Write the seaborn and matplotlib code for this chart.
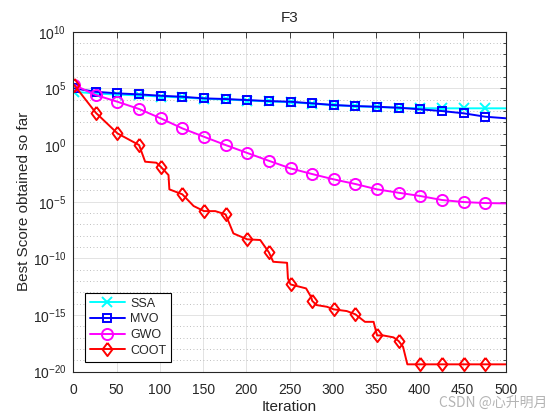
import numpy as np
import matplotlib
matplotlib.use('Agg')
import matplotlib.pyplot as plt
import seaborn as sns
from matplotlib.ticker import FixedLocator, NullFormatter

sns.set_style('white')
plt.rcParams['font.family'] = ['Liberation Sans', 'DejaVu Sans']
plt.rcParams['mathtext.fontset'] = 'custom'
plt.rcParams['mathtext.rm'] = 'Liberation Sans'
plt.rcParams['mathtext.it'] = 'Liberation Sans:italic'


# data (log10 of best score)
marker_iters = [1, 26, 51, 76, 101, 126, 151, 176, 201, 226, 251, 276, 301,
                326, 351, 376, 401, 426, 451, 476]
curve_iters = marker_iters + [500]

ssa_log = [4.7, 4.55, 4.45, 4.38, 4.28, 4.2, 4.08, 4.02, 3.93, 3.85, 3.78,
           3.65, 3.52, 3.42, 3.35, 3.28, 3.25, 3.24, 3.24, 3.24, 3.24]
mvo_log = [5.0, 4.7, 4.56, 4.47, 4.35, 4.26, 4.12, 4.06, 3.97, 3.88, 3.82,
           3.68, 3.53, 3.44, 3.38, 3.29, 3.15, 3.0, 2.8, 2.5, 2.36]
gwo_log = [5.3, 4.41, 3.82, 3.18, 2.36, 1.47, 0.73, 0.0, -0.7, -1.39, -2.06,
           -2.56, -3.03, -3.44, -3.91, -4.21, -4.5, -4.85, -5.03, -5.12, -5.15]

coot_iters = [1, 26, 51, 76, 83, 96, 101, 110, 111, 126,
              139, 151, 164, 176, 185, 201, 216, 226, 231, 247,
              248, 251, 269, 275, 276, 281, 293, 301, 316, 326,
              337, 347, 351, 358, 370, 376, 381, 386, 401, 426,
              451, 476, 500]
coot_log = [5.3, 2.85, 1.03, 0.0, -1.47, -1.56, -1.91, -2.65, -3.91, -4.35,
            -5.38, -5.83, -5.83, -6.12, -7.8, -8.32, -8.38, -9.47, -10.3, -10.39,
            -11.77, -12.3, -12.65, -13.44, -13.74, -14.12, -14.27, -14.5, -14.65, -14.94,
            -15.6, -15.6, -16.8, -16.8, -16.97, -17.3, -17.8, -19.35, -19.35, -19.35,
            -19.35, -19.35, -19.35]

x_ticks = [0, 50, 100, 150, 200, 250, 300, 350, 400, 450, 500]
y_major = [1e-20, 1e-15, 1e-10, 1e-5, 1e0, 1e5, 1e10]

diamond = [(0, 1), (0.75, 0), (0, -1), (-0.75, 0), (0, 1)]

series = [
    ('SSA', curve_iters, ssa_log, '#00FFFF', 'x', 6.5),
    ('MVO', curve_iters, mvo_log, '#0000FF', 's', 6),
    ('GWO', curve_iters, gwo_log, '#FF00FF', 'o', 8),
    ('COOT', coot_iters, coot_log, '#FF0000', diamond, 9.5),
]

fig = plt.figure(figsize=(5.6, 4.2), dpi=100)
ax = fig.add_axes([0.1309, 0.115, 0.7727, 0.8095])

for name, it, lg, col, mk, ms in series:
    idx = [i for i, v in enumerate(it) if v in marker_iters]
    sns.lineplot(x=it, y=10 ** np.array(lg), ax=ax, color=col, linewidth=1.4,
                 marker=mk, markersize=ms, markevery=idx,
                 markerfacecolor='none', markeredgecolor=col,
                 markeredgewidth=1.4, label=name)

ax.set_yscale('log')
ax.set_xlim(0, 500)
ax.set_ylim(1e-20, 1e10)
ax.set_xticks(x_ticks)
ax.yaxis.set_major_locator(FixedLocator(y_major))
ax.yaxis.set_minor_locator(FixedLocator([10.0 ** k for k in range(-20, 11) if k % 5]))
ax.yaxis.set_minor_formatter(NullFormatter())

ax.grid(True, which='major', color='#dedede', linewidth=0.6)
ax.grid(True, which='minor', axis='y', color='#a8a8a8', linestyle=(0, (1, 3)), linewidth=0.6)
ax.set_axisbelow(True)

for s in ax.spines.values():
    s.set_color('#262626')
    s.set_linewidth(0.8)
ax.tick_params(which='both', direction='in', top=True, right=True, colors='#262626',
               labelsize=10, labelcolor='#262626')
ax.tick_params(which='major', length=4, width=0.6)
ax.tick_params(which='minor', length=2, width=0.6)
ax.tick_params(axis='x', which='major', pad=8)
ax.tick_params(axis='y', which='major', pad=5)

ax.set_title('F3', fontsize=11, color='#262626', pad=7)
ax.set_xlabel('Iteration', fontsize=11, color='#262626', labelpad=2)
ax.set_ylabel('Best Score obtained so far', fontsize=11, color='#262626', labelpad=1)

leg = ax.legend(loc='lower left', bbox_to_anchor=(0.027, 0.029), borderaxespad=0,
                fontsize=9, handlelength=2.8, labelspacing=0.3, handletextpad=0.4,
                borderpad=0.4, fancybox=False, framealpha=1)
leg.get_frame().set_edgecolor('black')
leg.get_frame().set_linewidth(0.8)

fig.text(0.977, 0.04, 'CSDN @心升明月', ha='right', va='center', fontsize=10,
         color='#b4b4b4', family=['Noto Sans CJK SC', 'DejaVu Sans'])

fig.savefig('out.png', dpi=100, facecolor='white')
